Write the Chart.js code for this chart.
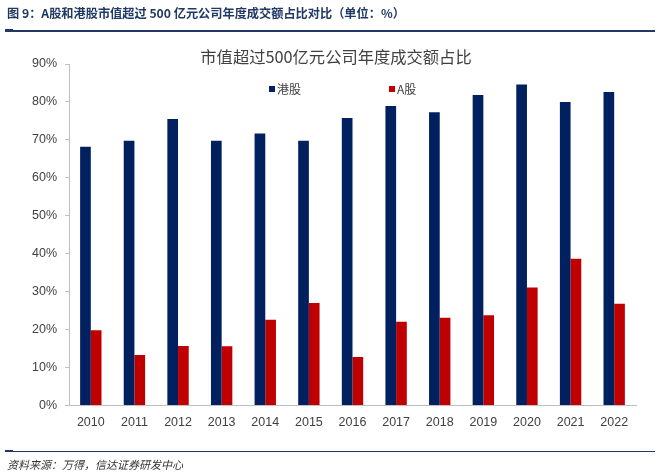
<!DOCTYPE html>
<html>
<head>
<meta charset="utf-8">
<script src="https://cdn.jsdelivr.net/npm/chart.js@4.4.1/dist/chart.umd.min.js"></script>
<style>
  html, body { margin: 0; padding: 0; background: #fff; }
  #wrap { position: relative; width: 660px; height: 475px; overflow: hidden; }
  #c { position: absolute; left: 0; top: 0; }
  #hdr { position: absolute; left: 7px; top: 4px; font: bold 12.2px "Noto Sans CJK SC", sans-serif; color: #1f3864; white-space: nowrap; }
  #hline { position: absolute; left: 5px; top: 30px; width: 650px; height: 2px; background: #1f3864; }
  #hstub { position: absolute; left: 5px; top: 29px; width: 8px; height: 3px; background: #1f3864; }
  #fline { position: absolute; left: 5px; top: 451px; width: 650px; height: 1px; background: #1f3864; }
  #fstub { position: absolute; left: 5px; top: 450px; width: 8px; height: 2px; background: #1f3864; }
  #src { position: absolute; left: 7px; top: 456px; font: italic 11px "Noto Sans CJK SC", sans-serif; color: #333; white-space: nowrap; }
</style>
</head>
<body>
<div id="wrap">
  <canvas id="c" width="660" height="475"></canvas>
  <div id="hdr">图 9：A股和港股市值超过 500 亿元公司年度成交额占比对比（单位：%）</div>
  <div id="hstub"></div><div id="hline"></div>
  <div id="fstub"></div><div id="fline"></div>
  <div id="src">资料来源：万得，信达证券研发中心</div>
</div>
<script>
const chartTitle = '市值超过500亿元公司年度成交额占比';
const years = ['2010','2011','2012','2013','2014','2015','2016','2017','2018','2019','2020','2021','2022'];
const hkLabel = '港股';
const aLabel = 'A股';
const hkShare = [68.2, 69.8, 75.5, 69.8, 71.7, 69.8, 75.8, 78.9, 77.3, 81.8, 84.6, 80.0, 82.6];
const aShare  = [19.8, 13.3, 15.7, 15.6, 22.6, 27.0, 12.8, 22.1, 23.1, 23.8, 31.1, 38.7, 26.8];
const yTickValues = [0, 10, 20, 30, 40, 50, 60, 70, 80, 90];

const NAVY = '#002060', RED = '#c00000';

const overlay = {
  id: 'overlay',
  afterDraw(chart) {
    const ctx = chart.ctx;
    ctx.save();
    ctx.fillStyle = '#404040';
    ctx.font = '16.3px "Noto Sans CJK SC", sans-serif';
    ctx.textAlign = 'center';
    ctx.textBaseline = 'middle';
    ctx.fillText(chartTitle, 336, 57);
    // legend
    ctx.font = '12px "Noto Sans CJK SC", sans-serif';
    ctx.textAlign = 'left';
    const items = [
      {x: 269, ds: chart.data.datasets[0]},
      {x: 389, ds: chart.data.datasets[1]}
    ];
    items.forEach(it => {
      ctx.fillStyle = it.ds.backgroundColor;
      ctx.fillRect(it.x, 86, 6, 6);
      ctx.fillStyle = '#404040';
      ctx.fillText(it.ds.label, it.x + 8, 89);
    });
    ctx.restore();
  }
};

new Chart(document.getElementById('c'), {
  type: 'bar',
  data: {
    labels: years,
    datasets: [
      { label: hkLabel, data: hkShare, backgroundColor: NAVY },
      { label: aLabel, data: aShare, backgroundColor: RED }
    ]
  },
  options: {
    responsive: false,
    animation: false,
    layout: { padding: { top: 64, right: 24, left: 0, bottom: 0 } },
    datasets: { bar: { categoryPercentage: 0.49, barPercentage: 1.0 } },
    plugins: { legend: { display: false }, title: { display: false }, tooltip: { enabled: false } },
    scales: {
      x: {
        grid: { drawOnChartArea: false, drawTicks: false, color: '#bfbfbf' },
        border: { display: true, color: '#bfbfbf', width: 1 },
        ticks: { color: '#404040', font: { family: '"Liberation Sans", Arial, sans-serif', size: 12.5 }, padding: 10, maxRotation: 0 },
        afterFit(s) { s.height = 69.5; }
      },
      y: {
        min: 0, max: 90,
        afterBuildTicks(s) { s.ticks = yTickValues.map(v => ({ value: v })); },
        grid: { drawOnChartArea: false, drawTicks: true, tickLength: 4, color: '#bfbfbf' },
        border: { display: true, color: '#bfbfbf', width: 1 },
        ticks: { color: '#404040', font: { family: '"Liberation Sans", Arial, sans-serif', size: 12.5 }, padding: 8, callback: v => v + '%' },
        afterFit(s) { s.width = 69; }
      }
    }
  },
  plugins: [overlay]
});
</script>
</body>
</html>
